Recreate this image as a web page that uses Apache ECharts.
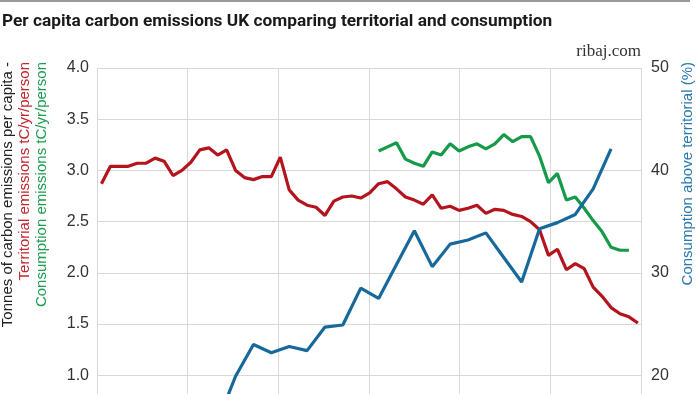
<!DOCTYPE html>
<html><head><meta charset="utf-8">
<script src="https://cdn.jsdelivr.net/npm/echarts@6/dist/echarts.min.js"></script>
<style>html,body{margin:0;padding:0;background:#fff}#c{width:700px;height:394px}</style>
</head><body><div id="c"></div>
<script>
const years = [1959,1960,1961,1962,1963,1964,1965,1966,1967,1968,1969,1970,1971,1972,1973,1974,1975,1976,1977,1978,1979,1980,1981,1982,1983,1984,1985,1986,1987,1988,1989,1990,1991,1992,1993,1994,1995,1996,1997,1998,1999,2000,2001,2002,2003,2004,2005,2006,2007,2008,2009,2010,2011,2012,2013,2014,2015,2016,2017,2018,2019];
const territorial = [2.87,3.04,3.04,3.04,3.07,3.07,3.12,3.09,2.95,3.00,3.08,3.20,3.22,3.15,3.20,3.00,2.93,2.91,2.94,2.94,3.13,2.81,2.71,2.66,2.64,2.56,2.70,2.74,2.75,2.73,2.78,2.87,2.89,2.82,2.74,2.71,2.67,2.76,2.63,2.65,2.61,2.63,2.66,2.58,2.62,2.61,2.57,2.55,2.50,2.42,2.17,2.23,2.03,2.09,2.04,1.86,1.77,1.66,1.60,1.57,1.51];
const consumptionYears = [1990,1991,1992,1993,1994,1995,1996,1997,1998,1999,2000,2001,2002,2003,2004,2005,2006,2007,2008,2009,2010,2011,2012,2013,2014,2015,2016,2017,2018];
const consumption = [3.19,3.23,3.27,3.11,3.07,3.04,3.18,3.15,3.26,3.19,3.23,3.26,3.21,3.26,3.35,3.28,3.33,3.33,3.14,2.88,2.97,2.71,2.74,2.63,2.51,2.40,2.25,2.22,2.22];
const aboveYears = [1972,1974,1976,1978,1980,1982,1984,1986,1988,1990,1992,1994,1996,1998,2000,2002,2004,2006,2008,2010,2012,2014,2016];
const aboveTerritorial = [15.5,19.9,23.0,22.2,22.8,22.4,24.7,24.9,28.5,27.5,30.8,34.1,30.6,32.8,33.2,33.9,31.5,29.1,34.3,34.9,35.7,38.2,42.1];

const pair = (xs, ys) => xs.map((x, i) => [x, ys[i]]);
const FONT = "'Liberation Sans', Arial, sans-serif";
const RED = '#b3141d', GREEN = '#149a48', BLUE = '#17699b';

const chart = echarts.init(document.getElementById('c'), null, {renderer: 'canvas'});
chart.setOption({
  animation: false,
  backgroundColor: '#fff',
  grid: {left: 97, right: 59, top: 68, bottom: -83.6, containLabel: false, outerBoundsMode: 'none'},
  xAxis: [
    {type: 'value', min: 1958.5, max: 2019.35, show: false},
    {type: 'value', min: 0, max: 6, interval: 1, position: 'top',
     axisLine: {show: false}, axisTick: {show: false}, axisLabel: {show: false},
     splitLine: {show: true, lineStyle: {color: '#d8d8d8', width: 1}}}
  ],
  yAxis: [
    {type: 'value', min: 0, max: 4, interval: 0.5,
     axisLine: {show: false}, axisTick: {show: false},
     axisLabel: {color: '#333', fontSize: 16, fontFamily: FONT, margin: 8,
                 formatter: v => v.toFixed(1)},
     splitLine: {show: true, lineStyle: {color: '#d8d8d8', width: 1}}},
    {type: 'value', min: 10, max: 50, interval: 10, position: 'right',
     axisLine: {show: false}, axisTick: {show: false},
     axisLabel: {color: '#333', fontSize: 16, fontFamily: FONT, margin: 10},
     splitLine: {show: false}}
  ],
  series: [
    {type: 'line', name: 'Territorial', xAxisIndex: 0, yAxisIndex: 0, data: pair(years, territorial),
     showSymbol: false, lineStyle: {color: RED, width: 3.2}, itemStyle: {color: RED}},
    {type: 'line', name: 'Consumption', xAxisIndex: 0, yAxisIndex: 0, data: pair(consumptionYears, consumption),
     showSymbol: false, lineStyle: {color: GREEN, width: 3.2}, itemStyle: {color: GREEN}},
    {type: 'line', name: 'Above', xAxisIndex: 0, yAxisIndex: 1, data: pair(aboveYears, aboveTerritorial),
     showSymbol: false, lineStyle: {color: BLUE, width: 3.2}, itemStyle: {color: BLUE}}
  ],
  graphic: [
    {type: 'rect', shape: {x: 0, y: 0, width: 690, height: 2}, style: {fill: '#9a9a9a'}},
    {type: 'text', x: 2, y: 22, style: {text: 'Per capita carbon emissions UK comparing territorial and consumption',
      fill: '#1a1a1a', font: "bold 17.3px Roboto, sans-serif", verticalAlign: 'middle'}},
    {type: 'text', x: 641, y: 52, style: {text: 'ribaj.com', fill: '#333', font: "17px 'Liberation Serif', serif", align: 'right', verticalAlign: 'middle'}},
    {type: 'text', x: 8, y: 62, rotation: Math.PI / 2, style: {text: 'Tonnes of carbon emissions per capita -', fill: '#222', font: '15px ' + FONT, align: 'right', verticalAlign: 'middle'}},
    {type: 'text', x: 25, y: 62, rotation: Math.PI / 2, style: {text: 'Territorial emissions tC/yr/person', fill: '#c0262e', font: '15px ' + FONT, align: 'right', verticalAlign: 'middle'}},
    {type: 'text', x: 42, y: 62, rotation: Math.PI / 2, style: {text: 'Consumption emissions tC/yr/person', fill: '#1e9e50', font: '15px ' + FONT, align: 'right', verticalAlign: 'middle'}},
    {type: 'text', x: 688, y: 62, rotation: Math.PI / 2, style: {text: 'Consumption above territorial (%)', fill: '#2a78ad', font: '15px ' + FONT, align: 'right', verticalAlign: 'middle'}}
  ]
});
</script></body></html>
